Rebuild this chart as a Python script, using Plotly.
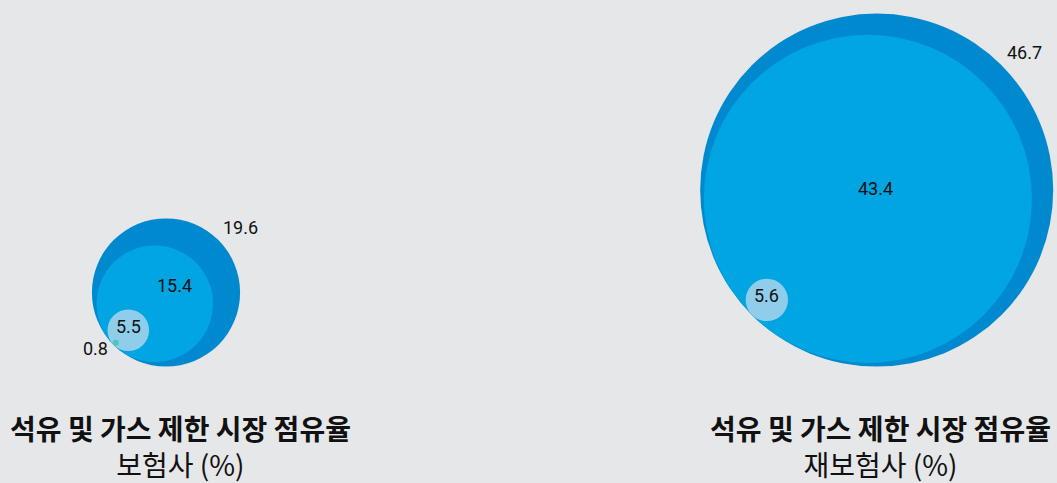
import plotly.graph_objects as go

# ---- data ----
title_line = "석유 및 가스 제한 시장 점유율"
group_names = ["보험사 (%)", "재보험사 (%)"]
insurer_values = [19.6, 15.4, 5.5, 0.8]
reinsurer_values = [46.7, 43.4, 5.6]

# ---- style / layout ----
W, H = 1057, 483
K = 3.78  # px per unit (radius proportional to value)
BG = "#e6e7e9"
circle_colors = ["#0089cf", "#00a5e2", "#8fcdea", "#4fc3bd"]
group_center_px = [166, 876.7]
title_center_px = [180, 880]
baseline_px = 366.6
inner_label_shift = [(8, 7), (-1, 2)]

def ux(px):
    return px / K

def uy(py):
    return (H - py) / K

fig = go.Figure()
shapes = []
annotations = []
D = 0.70710678
label_font = dict(family="Roboto, Liberation Sans, sans-serif", size=18, color="#111111")
title_font = "Noto Sans CJK KR"

for gi, vals in enumerate([insurer_values, reinsurer_values]):
    R = vals[0]
    cx = ux(group_center_px[gi])
    cy = uy(baseline_px) + R
    for vi, v in enumerate(vals):
        ccx = cx - (R - v) * D
        ccy = cy - (R - v) * D
        shapes.append(dict(type="circle", xref="x", yref="y",
                           x0=ccx - v, x1=ccx + v, y0=ccy - v, y1=ccy + v,
                           fillcolor=circle_colors[vi], line=dict(width=0), layer="above"))
        if vi == 0:
            annotations.append(dict(x=cx + R * D, y=cy + R * D, xref="x", yref="y",
                                    text=f"{v}", showarrow=False, xanchor="left",
                                    yanchor="middle", xshift=3, yshift=13, font=label_font))
        elif vi == 1:
            sx, sy = inner_label_shift[gi]
            annotations.append(dict(x=cx, y=cy, xref="x", yref="y", text=f"{v}",
                                    showarrow=False, xanchor="center", yanchor="middle",
                                    xshift=sx, yshift=sy, font=label_font))
        elif vi == 2:
            annotations.append(dict(x=ccx, y=ccy, xref="x", yref="y", text=f"{v}",
                                    showarrow=False, xanchor="center", yanchor="middle",
                                    yshift=4, font=label_font))
        else:
            annotations.append(dict(x=ccx, y=ccy, xref="x", yref="y", text=f"{v}",
                                    showarrow=False, xanchor="right", yanchor="middle",
                                    xshift=-6, yshift=-6, font=label_font))
    # two-line title
    annotations.append(dict(x=ux(title_center_px[gi]), y=uy(445.5), xref="x", yref="y",
                            text=f"<b>{title_line}</b><br>{group_names[gi]}", showarrow=False,
                            xanchor="center", yanchor="middle", align="center",
                            font=dict(family=title_font, size=28, color="#111111")))

fig.update_layout(
    width=W, height=H, margin=dict(l=0, r=0, t=0, b=0),
    paper_bgcolor=BG, plot_bgcolor=BG, showlegend=False,
    shapes=shapes, annotations=annotations,
    xaxis=dict(range=[0, W / K], visible=False, fixedrange=True),
    yaxis=dict(range=[0, H / K], visible=False, fixedrange=True),
)

fig.write_html("out.html", config={"displayModeBar": False},
               post_script="document.body.style.margin='0';document.body.style.overflow='hidden';")
